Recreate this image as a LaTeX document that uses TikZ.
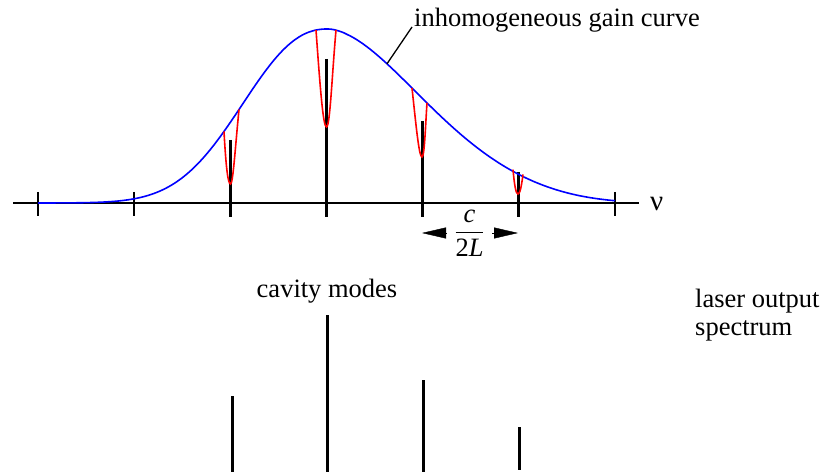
\documentclass[tikz,border=0pt]{standalone}
\usepackage{amsmath}
\usepackage{fontspec}
\setmainfont{Liberation Serif}
\usetikzlibrary{arrows.meta}
\tikzset{
  gain/.style={blue,line width=1.6pt},
  hole/.style={red,line width=1.6pt},
  mode/.style={line width=3pt},
  tickmark/.style={line width=2pt},
  spacing/.style={line width=.4pt,-{Triangle[length=24pt,width=11pt]}},
}
\begin{document}
\begin{tikzpicture}[x=1pt,y=-1pt,font=\fontsize{26.5}{28}\selectfont]
  \useasboundingbox (0,0) rectangle (838,473);
  % frequency axis
  \draw[line width=2.2pt] (13,203)--(639,203);
  \node[anchor=west,inner sep=0pt] (nu) at (650,204) {\fontsize{29}{30}\selectfont ν};
  \draw[tickmark] (38,192)--(38,216);
  \draw[tickmark] (134,192)--(134,216);
  \draw[tickmark] (615,192)--(615,216);
  \coordinate (m1) at (230.5,203);
  \coordinate (m2) at (326.5,203);
  \coordinate (m3) at (422,203);
  \coordinate (m4) at (518,203);
  \draw[mode] (230.5,140)--(230.5,217);
  \draw[mode] (326.5,59)--(326.5,217);
  \draw[mode] (422,121)--(422,217);
  \draw[mode] (518,172)--(518,217);
  % gain curve
  \draw[gain] plot[domain=38:328,samples=90] (\x,{203-174*exp(-((abs(\x-328)+0.01)/109.5)^2.3)});
  \draw[gain] plot[domain=328:615,samples=90] (\x,{203-174*exp(-((abs(\x-328)+0.01)/139)^1.75-((\x-328)/300)^6)});
  % holes
  \draw[hole] (224,131.5) .. controls (226,168) and (228,184) .. (230.5,184) .. controls (233,184) and (235,150) .. (239,109.5);
  \draw[hole] (316,30.1) .. controls (320,85) and (323,127) .. (326.5,127) .. controls (330,127) and (332,75) .. (336,30.2);
  \draw[hole] (412,88) .. controls (416,125) and (419,157) .. (422,157) .. controls (424.5,157) and (425.5,125) .. (427,102.8);
  \draw[hole] (513,169.6) .. controls (514.5,186) and (516,194) .. (518,194) .. controls (520,194) and (521.5,186) .. (523,174.5);
  % labels
  \coordinate (gc) at (387,63.8);
  \node[anchor=base west,inner sep=2pt] (gainlbl) at (412,27) {inhomogeneous gain curve};
  \draw[line width=1.3pt] (gc)--(gainlbl.base west);
  \node[minimum width=45pt,inner sep=0pt] (frac) at (469.5,233) {$\dfrac{\textit{c}}{\text{2}\textit{L}}$};
  \draw[spacing] (frac.west)--(frac.west -| m3);
  \draw[spacing] (frac.east)--(frac.east -| m4);
  \node[anchor=base,inner sep=0pt] (cav) at (327,297) {cavity modes};
  \node[anchor=north west,align=left,inner sep=0pt] (out) at (695,289) {laser output\\spectrum};
  % output spectrum
  \draw[mode] (232,396)--(232,472);
  \draw[mode] (327,315)--(327,472);
  \draw[mode] (423,380)--(423,472);
  \draw[mode] (519,427)--(519,470);
\end{tikzpicture}
\end{document}
